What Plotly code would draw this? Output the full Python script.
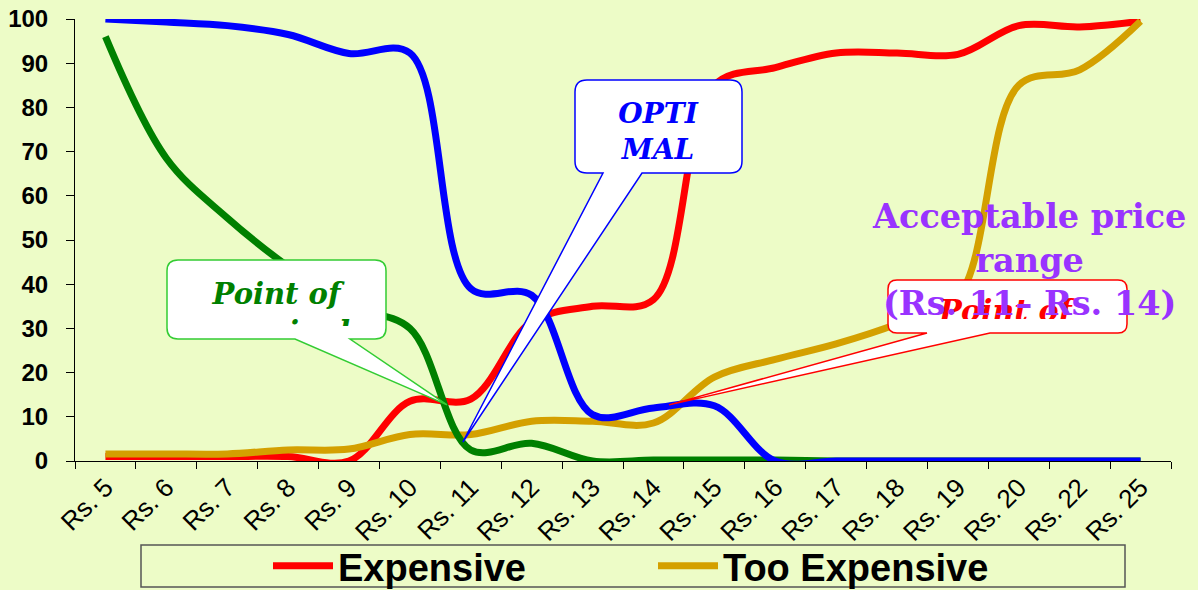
import plotly.graph_objects as go

# ---------------- data ----------------
categories = ["Rs. 5", "Rs. 6", "Rs. 7", "Rs. 8", "Rs. 9", "Rs. 10", "Rs. 11", "Rs. 12",
              "Rs. 13", "Rs. 14", "Rs. 15", "Rs. 16", "Rs. 17", "Rs. 18", "Rs. 19",
              "Rs. 20", "Rs. 22", "Rs. 25"]
expensive = [1, 1, 1, 1, 0, 13.5, 14, 31.5, 35, 36.5, 85, 89, 92.3, 92.3, 92, 98.5, 98.2, 99.5]
too_expensive = [1.6, 1.6, 1.6, 2.5, 2.7, 6, 6, 9, 9, 8.6, 19, 23, 26.5, 31, 37, 85, 88.5, 99.5]
too_cheap = [96, 68.5, 55, 44, 35, 30, 2.5, 4, 0, 0.2, 0.2, 0.2, 0, 0, 0, 0, 0, 0]
not_expensive = [100, 99.3, 98.5, 96.5, 92.2, 92.3, 39, 37.5, 10.5, 12, 12.5, 0, 0, 0, 0, 0, 0, 0]

y_ticks = [0, 10, 20, 30, 40, 50, 60, 70, 80, 90, 100]

BG = "#EDFCC7"
FONT = "Arial, Liberation Sans, sans-serif"
SERIF = "DejaVu Serif, serif"

# plot area geometry (pixels)
W, H = 1198, 590
L, R, T, B = 75, 27, 19, 129
PW, PH = W - L - R, H - T - B
N = len(categories)


def pp(px, py):
    """pixel -> paper coordinates"""
    return (px - L) / PW, (T + PH - py) / PH


def data_px(idx, val):
    """category index / value -> pixel position"""
    return L + (idx + 0.5) * PW / N, T + PH - val / 100 * PH


def callout_path(x0, y0, x1, y1, r, bx0, bx1, tip):
    tx, ty = tip
    pts = []

    def P(c, *xy):
        s = c
        for i in range(0, len(xy), 2):
            a, b = pp(xy[i], xy[i + 1])
            s += f" {a:.5f},{b:.5f}"
        pts.append(s)

    P("M", x0 + r, y0)
    P("L", x1 - r, y0)
    P("Q", x1, y0, x1, y0 + r)
    P("L", x1, y1 - r)
    P("Q", x1, y1, x1 - r, y1)
    P("L", bx1, y1)
    P("L", tx, ty)
    P("L", bx0, y1)
    P("L", x0 + r, y1)
    P("Q", x0, y1, x0, y1 - r)
    P("L", x0, y0 + r)
    P("Q", x0, y0, x0 + r, y0)
    return " ".join(pts) + " Z"


fig = go.Figure()

series = [
    ("Expensive", expensive, "#FF0000", True),
    ("Too Expensive", too_expensive, "#D4A000", True),
    ("Too Cheap", too_cheap, "#008000", False),
    ("Not Expensive", not_expensive, "#0000FF", False),
]
for name, vals, col, show in series:
    fig.add_trace(go.Scatter(
        x=categories, y=vals, name=name, mode="lines",
        line=dict(color=col, width=7, shape="spline", smoothing=1.0),
        showlegend=show,
    ))

shapes = []
annotations = []

# callouts: (box x0,y0,x1,y1, radius, tail base x0,x1, tip(idx,val), border colour, text colour, text, text top, clip height, font size)
callouts = [
    (167, 260, 386, 339, 11, 295, 350, (5.61, 12.7), "#33CC33", "#008000",
     "<b><i>Point of<br>marginal</i></b>", 277, 49, 29),
    (575, 80, 742, 173, 12, 603, 642, (5.87, 4.3), "#0000FF", "#0000FF",
     "<b><i>OPTI<br>MAL</i></b>", 97, 63, 28),
    (888, 280, 1127, 333, 9, 927, 990, (9.255, 12.7), "#FF0000", "#FF0000",
     "<b><i>Point of</i></b>", 293, 26, 30),
]
for (x0, y0, x1, y1, r, bx0, bx1, tip, bcol, tcol, txt, ttop, th, fs) in callouts:
    shapes.append(dict(
        type="path", xref="paper", yref="paper", layer="above",
        path=callout_path(x0, y0, x1, y1, r, bx0, bx1, data_px(*tip)),
        fillcolor="white", line=dict(color=bcol, width=1.5),
    ))
    ax_, ay_ = pp((x0 + x1) / 2, ttop)
    annotations.append(dict(
        xref="paper", yref="paper", x=ax_, y=ay_, xanchor="center", yanchor="top",
        text=txt, showarrow=False, width=x1 - x0 - 6, height=th, valign="top",
        borderpad=0, borderwidth=0, align="center",
        font=dict(family=SERIF, size=fs, color=tcol),
    ))

# legend frame
lx0, ly0 = pp(141, 545)
lx1, ly1 = pp(1125, 587)
shapes.append(dict(type="rect", xref="paper", yref="paper", x0=lx0, y0=ly0, x1=lx1, y1=ly1,
                   line=dict(color="#555555", width=1.5), fillcolor="rgba(0,0,0,0)", layer="below"))

# acceptable price range text
px_, py_ = pp(1029, 260)
annotations.append(dict(
    xref="paper", yref="paper", x=px_, y=py_, xanchor="center", yanchor="middle",
    text="<b>Acceptable price<br>range<br>(Rs. 11– Rs. 14)</b>", showarrow=False,
    align="center", font=dict(family=SERIF, size=33.5, color="#9933FF"),
))

legx, legy = pp(268, 566)

fig.update_layout(
    width=W, height=H,
    margin=dict(l=L, r=R, t=T, b=B, pad=0, autoexpand=False),
    paper_bgcolor=BG, plot_bgcolor=BG,
    shapes=shapes, annotations=annotations,
    showlegend=True,
    legend=dict(
        orientation="h", x=legx, y=legy, xanchor="left", yanchor="middle",
        font=dict(family=FONT, size=38, color="black", weight="bold"),
        bgcolor="rgba(0,0,0,0)", borderwidth=0,
        itemwidth=60, entrywidth=310, entrywidthmode="pixels",
        traceorder="normal",
    ),
    xaxis=dict(
        type="category", range=[-0.5, N - 0.5], automargin=False,
        showline=True, linecolor="black", linewidth=1,
        ticks="outside", ticklen=7, tickcolor="black", tickson="boundaries",
        tickangle=-45, tickfont=dict(family=FONT, size=26, color="black"),
        showgrid=False, zeroline=False,
    ),
    yaxis=dict(
        range=[0, 100], tickvals=y_ticks, automargin=False,
        showline=True, linecolor="black", linewidth=1,
        ticks="outside", ticklen=8, tickcolor="black",
        tickfont=dict(family=FONT, size=24, color="black", weight="bold"),
        ticklabelstandoff=13,
        showgrid=False, zeroline=False,
    ),
)

fig.write_html("out.html")
